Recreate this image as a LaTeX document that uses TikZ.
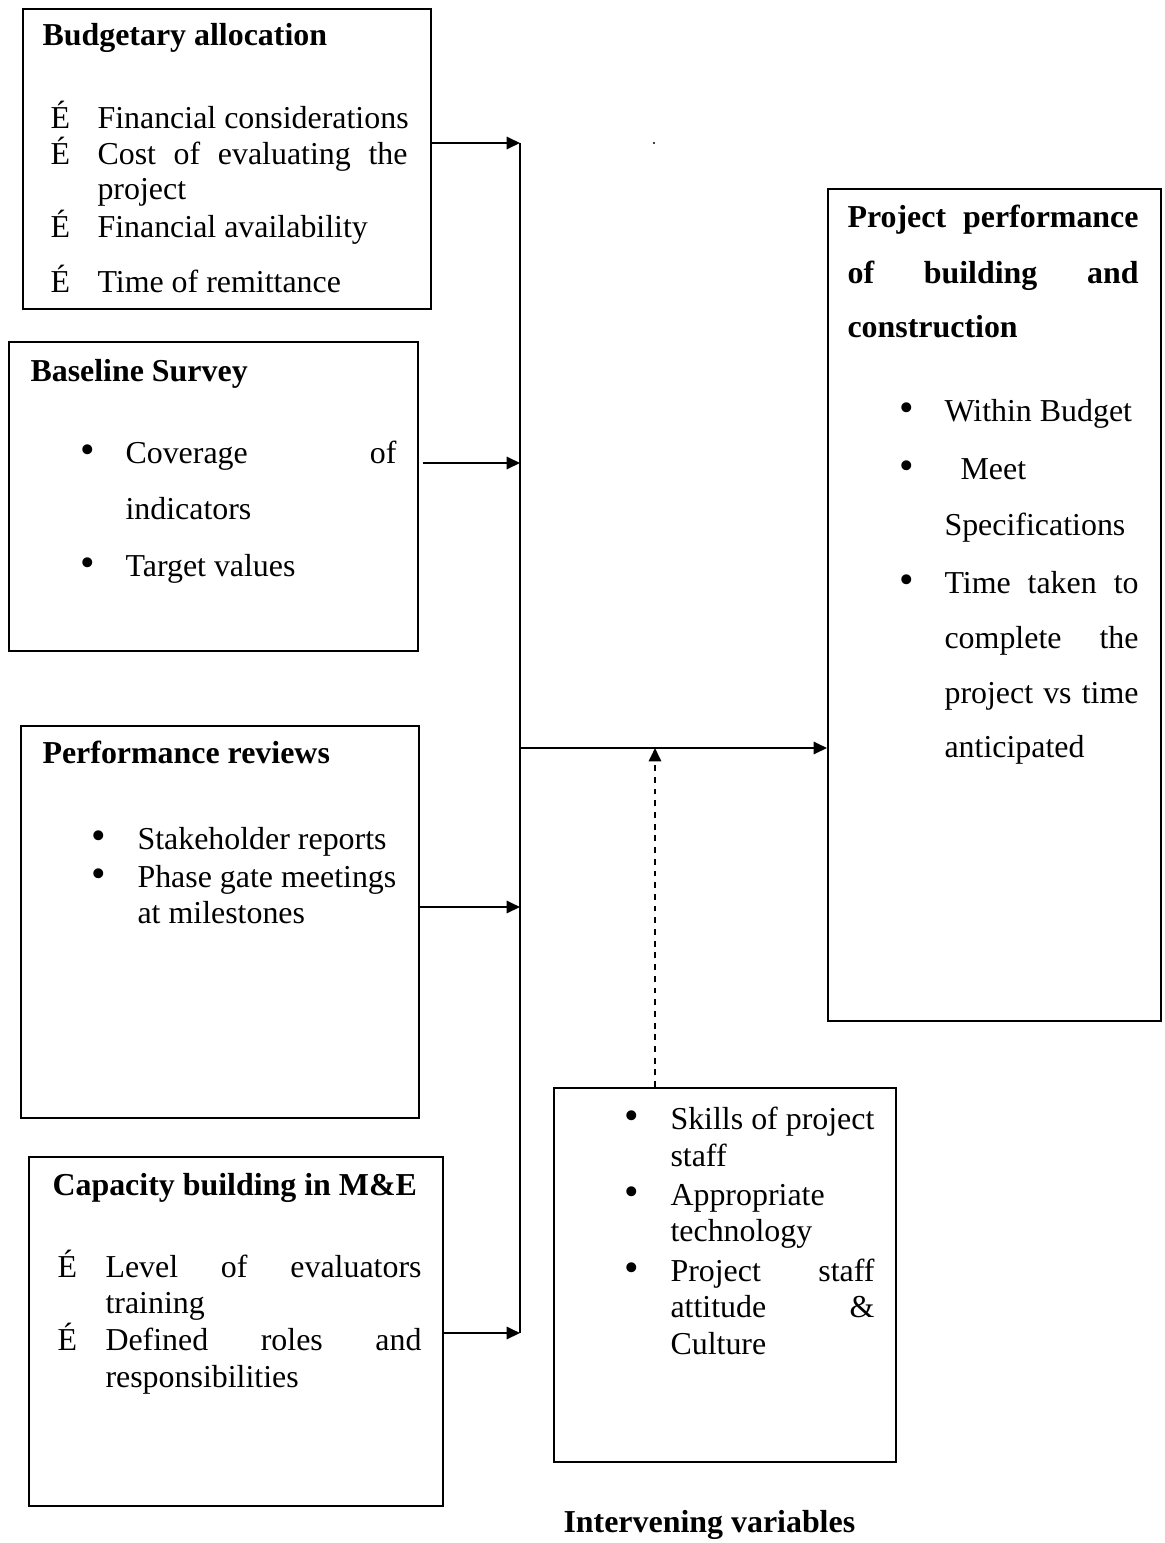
\documentclass[tikz,border=0pt]{standalone}
\usepackage{fontspec}
\usepackage{graphicx}
\setmainfont{Liberation Serif}
\usetikzlibrary{arrows.meta}
\newdimen\pxu \pxu=0.376pt
\newcommand\jline[2]{\makebox[#1\pxu][s]{#2}}
\newcommand\bigdot{\scalebox{1.3}{•}}
\tikzset{box/.style 2 args={draw,line width=0.8pt,anchor=north west,inner sep=0pt,minimum width=#1*\pxu,minimum height=#2*\pxu},
  txt/.style={anchor=base west,inner sep=0pt},
  head/.style={txt,font=\fontsize{12}{14}\selectfont\bfseries},
  link/.style={line width=0.8pt,-{Triangle[length=5pt,width=4.6pt]}}}
\begin{document}
\begin{tikzpicture}[x=0.376pt,y=-0.376pt,font=\fontsize{12}{14}\selectfont]
\useasboundingbox(0,0)rectangle(1165,1543);
\node[box={408}{300}] (budget) at(22,8){};
\node[box={409}{309}] (baseline) at(8,341){};
\node[box={398}{392}] (reviews) at(20,725){};
\node[box={414}{349}] (capacity) at(28,1156){};
\node[box={342}{374}] (interv) at(553,1087){};
\node[box={333}{832}] (perf) at(827,188){};
\node[head] (budgethd) at(42,46){Budgetary allocation};
\foreach \y [count=\i] in {128,164,238,292} \node[txt] (bmk\i) at(50,\y){É};
\node[txt] (ba1) at(97,128){Financial considerations};
\node[txt] (ba2) at(97,164){\jline{310}{Cost of evaluating the}};
\node[txt] (ba3) at(97,200){project};
\node[txt] (ba4) at(97,238){Financial availability};
\node[txt] (ba5) at(97,292){Time of remittance};
\node[head] (basehd) at(30,381){Baseline Survey};
\foreach \y [count=\i] in {463,576} \node[txt] (smk\i) at(80,\y){\bigdot};
\node[txt] (bs1) at(125,463){\jline{271}{Coverage of}};
\node[txt] (bs2) at(125,519){indicators};
\node[txt] (bs3) at(125,576){Target values};
\node[head] (revhd) at(42,763){Performance reviews};
\foreach \y [count=\i] in {849,887} \node[txt] (rmk\i) at(91,\y){\bigdot};
\node[txt] (rv1) at(137,849){Stakeholder reports};
\node[txt] (rv2) at(137,887){Phase gate meetings};
\node[txt] (rv3) at(137,923){at milestones};
\node[head] (caphd) at(52,1195){Capacity building in M\&E};
\foreach \y [count=\i] in {1277,1350} \node[txt] (cmk\i) at(57,\y){É};
\node[txt] (cb1) at(105,1277){\jline{316}{Level of evaluators}};
\node[txt] (cb2) at(105,1313){training};
\node[txt] (cb3) at(105,1350){\jline{316}{Defined roles and}};
\node[txt] (cb4) at(105,1387){responsibilities};
\foreach \y [count=\i] in {1129,1205,1281} \node[txt] (imk\i) at(624,\y){\bigdot};
\node[txt] (iv1) at(670,1129){Skills of project};
\node[txt] (iv2) at(670,1166){staff};
\node[txt] (iv3) at(670,1205){Appropriate};
\node[txt] (iv4) at(670,1241){technology};
\node[txt] (iv5) at(670,1281){\jline{204}{Project staff}};
\node[txt] (iv6) at(670,1317){\jline{204}{attitude \&}};
\node[txt] (iv7) at(670,1354){Culture};
\node[head] (intervlbl) at(563,1532){Intervening variables};
\node[head] (perfhd1) at(847,228){\jline{291}{Project performance}};
\node[head] (perfhd2) at(847,283){\jline{291}{of building and}};
\node[head] (perfhd3) at(847,337){construction};
\foreach \y [count=\i] in {421,479,593} \node[txt] (pmk\i) at(899,\y){\bigdot};
\node[txt] (pp1) at(944,421){Within Budget};
\node[txt] (pp2) at(960,479){Meet};
\node[txt] (pp3) at(944,535){Specifications};
\node[txt] (pp4) at(944,593){\jline{194}{Time taken to}};
\node[txt] (pp5) at(944,648){\jline{194}{complete the}};
\node[txt] (pp6) at(944,703){\jline{194}{project vs time}};
\node[txt] (pp7) at(944,757){anticipated};
\coordinate (bus1) at(520,143);
\coordinate (bus2) at(520,463);
\coordinate (bus3) at(520,907);
\coordinate (bus4) at(520,1333);
\coordinate (hub) at(520,748);
\coordinate (lift) at(655,748);
\draw[line width=0.8pt](bus1)--(bus4);
\draw[link](budget.east|-bus1)--(bus1);
\draw[link]([xshift=4\pxu]baseline.east|-bus2)--(bus2);
\draw[link](reviews.east|-bus3)--(bus3);
\draw[link](capacity.east|-bus4)--(bus4);
\draw[link](hub)--(perf.west|-hub);
\draw[link,dash pattern=on 2.2pt off 2.2pt](interv.north-|lift)--(lift);
\fill(654,143)circle(1.2);
\end{tikzpicture}
\end{document}
